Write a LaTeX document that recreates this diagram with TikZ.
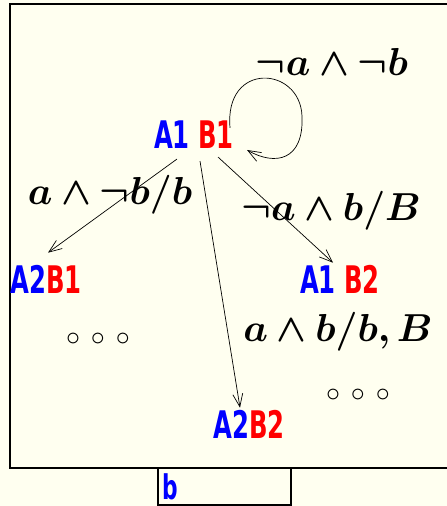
\RequirePackage{fix-cm}
\documentclass[tikz,border=0pt]{standalone}
\usepackage{amsmath,amssymb}
\usepackage{bm}
\usepackage{fontspec}
\newfontfamily\statefont[FakeStretch=0.64]{DejaVu Sans}
\usetikzlibrary{arrows.meta}
\definecolor{paper}{RGB}{255,255,240}

\tikzset{
  state/.style={inner sep=0pt, font=\statefont\bfseries\fontsize{38}{40}\selectfont},
  guard/.style={inner sep=0pt, font=\fontsize{39}{42}\selectfont},
  trans/.style={-{Straight Barb[length=13pt,width=10pt]}, line width=0.7pt}
}

\begin{document}
\begin{tikzpicture}[x=1pt,y=1pt]
  \useasboundingbox (0,0) rectangle (447,506);
  \fill[paper] (0,0) rectangle (447,506);

  % frames
  \draw[line width=2pt] (10,38) rectangle (460,502);
  \draw[line width=2pt] (158,1) rectangle (291,38);
  \node[state, text=blue, font=\statefont\bfseries\fontsize{34}{36}\selectfont] (bname) at (170,19) {b};

  % states
  \node[state] (s11) at (194,371) {\textcolor{blue}{A1} \textcolor{red}{B1}};
  \node[state] (s21) at (46,227) {\textcolor{blue}{A2}\textcolor{red}{B1}};
  \node[state] (s12) at (340,227) {\textcolor{blue}{A1} \textcolor{red}{B2}};
  \node[state] (s22) at (249,82) {\textcolor{blue}{A2}\textcolor{red}{B2}};

  % transitions
  \draw[trans] ([xshift=-17pt,yshift=-10pt]s11.south) -- ([xshift=2pt,yshift=12pt]s21.north);
  \draw[trans] ([xshift=6pt,yshift=-12pt]s11.south) -- ([xshift=-9pt,yshift=2pt]s22.north);
  \draw[trans] ([xshift=24pt,yshift=-8pt]s11.south) -- ([xshift=-7pt,yshift=2pt]s12.north);
  \draw[trans] ([xshift=-4pt,yshift=-7pt]s11.north east)
    .. controls (224,445) and (300,440) .. (302,390)
    .. controls (304,345) and (275,340) .. ([xshift=13pt,yshift=-15pt]s11.east);

  % guards
  \node[guard] (g1) at (332,444) {$\bm{\neg a\wedge\neg b}$};
  \node[guard] (g2) at (110,311) {$\bm{a\wedge\neg b/b}$};
  \node[guard] (g3) at (331,295) {$\bm{\neg a\wedge b/B}$};
  \node[guard] (g4) at (338,174) {$\bm{a\wedge b/b,B}$};

  % more states
  \node[guard, font=\fontsize{28}{32}\selectfont] (dots1) at (98,167) {$\circ\,\circ\,\circ$};
  \node[guard, font=\fontsize{28}{32}\selectfont] (dots2) at (358,111) {$\circ\,\circ\,\circ$};
\end{tikzpicture}
\end{document}
